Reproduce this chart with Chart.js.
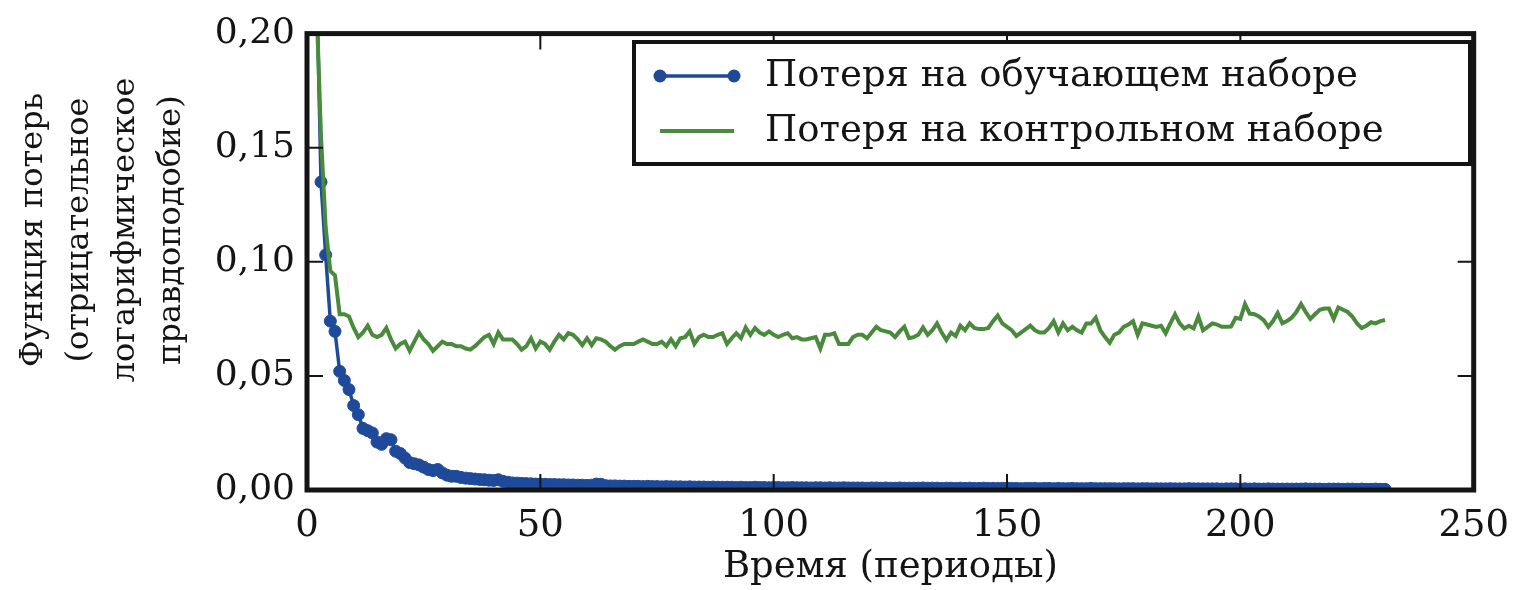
<!DOCTYPE html>
<html>
<head>
<meta charset="utf-8">
<script src="https://cdn.jsdelivr.net/npm/chart.js@4.4.1/dist/chart.umd.min.js"></script>
<style>
  html, body { margin: 0; padding: 0; background: #fff; }
</style>
</head>
<body>
<canvas id="lossChart" width="1523" height="590"></canvas>
<script>
// loss per epoch
const trainLoss = [
  0.450, 0.230, 0.135, 0.103, 0.074, 0.0695, 0.052, 0.048, 0.044, 0.037,
  0.033, 0.027, 0.026, 0.025, 0.021, 0.020, 0.0225, 0.022, 0.017, 0.016,
  0.014, 0.012, 0.0115, 0.011, 0.010, 0.009, 0.0085, 0.009, 0.0075, 0.0065,
  0.006, 0.006, 0.0055, 0.0052, 0.005, 0.0048, 0.0046, 0.0045, 0.0043, 0.0042,
  0.0045, 0.0038, 0.0034, 0.0031, 0.003, 0.0029, 0.0028, 0.0027, 0.0026, 0.0026,
  0.0025, 0.0024, 0.0024, 0.0023, 0.0023, 0.0022, 0.0022, 0.0021, 0.0021, 0.002,
  0.0021, 0.0026, 0.0025, 0.0019, 0.0018, 0.0018, 0.0017, 0.0017, 0.0016, 0.0016,
  0.0016, 0.0015, 0.0016, 0.0015, 0.0015, 0.0014, 0.0015, 0.0014, 0.0014, 0.0014,
  0.0013, 0.0014, 0.0013, 0.0013, 0.0013, 0.0012, 0.0013, 0.0012, 0.0012, 0.0012,
  0.0012, 0.0011, 0.0012, 0.0011, 0.0011, 0.0012, 0.0011, 0.0011, 0.0010, 0.0011,
  0.0011, 0.0010, 0.0010, 0.0011, 0.0010, 0.0010, 0.0010, 0.0009, 0.0010, 0.0010,
  0.0009, 0.0010, 0.0009, 0.0009, 0.0010, 0.0009, 0.0009, 0.0009, 0.0009, 0.0008,
  0.0009, 0.0009, 0.0008, 0.0009, 0.0008, 0.0008, 0.0009, 0.0008, 0.0008, 0.0008,
  0.0008, 0.0009, 0.0008, 0.0008, 0.0008, 0.0007, 0.0008, 0.0008, 0.0007, 0.0008,
  0.0007, 0.0008, 0.0007, 0.0007, 0.0008, 0.0007, 0.0007, 0.0007, 0.0007, 0.0008,
  0.0007, 0.0007, 0.0006, 0.0007, 0.0007, 0.0007, 0.0006, 0.0007, 0.0007, 0.0006,
  0.0007, 0.0006, 0.0006, 0.0007, 0.0006, 0.0006, 0.0006, 0.0007, 0.0006, 0.0006,
  0.0006, 0.0006, 0.0006, 0.0005, 0.0006, 0.0006, 0.0006, 0.0005, 0.0006, 0.0006,
  0.0005, 0.0006, 0.0005, 0.0005, 0.0006, 0.0005, 0.0005, 0.0005, 0.0006, 0.0005,
  0.0005, 0.0005, 0.0005, 0.0005, 0.0005, 0.0004, 0.0005, 0.0005, 0.0005, 0.0004,
  0.0005, 0.0004, 0.0005, 0.0004, 0.0004, 0.0005, 0.0004, 0.0004, 0.0004, 0.0004,
  0.0004, 0.0004, 0.0004, 0.0005, 0.0004, 0.0004, 0.0004, 0.0003, 0.0004, 0.0004,
  0.0004, 0.0003, 0.0004, 0.0004, 0.0003, 0.0004, 0.0003, 0.0003, 0.0004, 0.0003, 0.0003
];

const validLoss = [
  0.320, 0.215, 0.155, 0.115, 0.096, 0.094, 0.077, 0.077, 0.076, 0.071,
  0.067, 0.069, 0.072, 0.068, 0.067, 0.068, 0.071, 0.066, 0.062, 0.064,
  0.065, 0.061, 0.065, 0.069, 0.066, 0.064, 0.061, 0.063, 0.065, 0.064,
  0.064, 0.063, 0.063, 0.062, 0.0615, 0.063, 0.065, 0.067, 0.068, 0.064,
  0.069, 0.066, 0.066, 0.066, 0.064, 0.0615, 0.063, 0.0665, 0.062, 0.065,
  0.064, 0.0615, 0.065, 0.068, 0.066, 0.0687, 0.068, 0.066, 0.0635, 0.0665,
  0.0635, 0.0665, 0.066, 0.065, 0.063, 0.0615, 0.063, 0.064, 0.064, 0.064,
  0.065, 0.066, 0.065, 0.064, 0.064, 0.065, 0.063, 0.066, 0.063, 0.0665,
  0.067, 0.0695, 0.064, 0.067, 0.068, 0.067, 0.067, 0.068, 0.0687, 0.064,
  0.0665, 0.0687, 0.0665, 0.0712, 0.068, 0.071, 0.069, 0.068, 0.0695, 0.068,
  0.067, 0.068, 0.0687, 0.0665, 0.067, 0.066, 0.066, 0.0665, 0.067, 0.062,
  0.068, 0.068, 0.0687, 0.064, 0.064, 0.064, 0.067, 0.068, 0.068, 0.0665,
  0.069, 0.0715, 0.070, 0.0695, 0.069, 0.067, 0.0695, 0.0715, 0.0665, 0.067,
  0.068, 0.0712, 0.068, 0.070, 0.073, 0.069, 0.0657, 0.069, 0.0675, 0.072,
  0.070, 0.073, 0.071, 0.0705, 0.0705, 0.071, 0.074, 0.0765, 0.073, 0.0715,
  0.070, 0.0675, 0.069, 0.0705, 0.072, 0.070, 0.069, 0.069, 0.071, 0.074,
  0.069, 0.073, 0.070, 0.0715, 0.070, 0.069, 0.073, 0.073, 0.0755, 0.070,
  0.067, 0.0645, 0.068, 0.069, 0.0715, 0.0725, 0.074, 0.068, 0.073, 0.0725,
  0.072, 0.0715, 0.072, 0.0687, 0.073, 0.077, 0.073, 0.0708, 0.072, 0.0708,
  0.076, 0.070, 0.0715, 0.073, 0.0725, 0.0715, 0.0715, 0.0716, 0.0755, 0.075,
  0.0815, 0.0773, 0.077, 0.076, 0.0744, 0.0715, 0.074, 0.0775, 0.073, 0.074,
  0.0755, 0.078, 0.0815, 0.078, 0.075, 0.077, 0.079, 0.0795, 0.0795, 0.075,
  0.080, 0.079, 0.078, 0.076, 0.073, 0.071, 0.072, 0.0735, 0.073, 0.074, 0.0745
];

// epochs 1..N
const epochs = trainLoss.map((_, i) => i + 1);

const xTicks = [0, 50, 100, 150, 200, 250];
const yTicks = [0, 0.05, 0.10, 0.15, 0.20];
const yTickLabels = ['0,00', '0,05', '0,10', '0,15', '0,20'];

const seriesNames = ['Потеря на обучающем наборе', 'Потеря на контрольном наборе'];
const xTitle = 'Время (периоды)';
const yTitle = ['Функция потерь', '(отрицательное', 'логарифмическое', 'правдоподобие)'];

const BLUE = '#1f4a9a';
const GREEN = '#4a8a3c';
const INK = '#141414';
const SERIF = '"DejaVu Serif", "Liberation Serif", serif';

// frame, inward ticks, legend box and y title
const framePlugin = {
  id: 'framePlugin',
  afterDatasetsDraw(chart) {
    const { ctx, chartArea: a, scales: { x, y } } = chart;
    ctx.save();
    ctx.strokeStyle = INK;
    ctx.lineWidth = 2;
    const tl = 16;
    ctx.beginPath();
    xTicks.forEach(v => {
      const px = x.getPixelForValue(v);
      ctx.moveTo(px, a.bottom); ctx.lineTo(px, a.bottom - tl);
      ctx.moveTo(px, a.top); ctx.lineTo(px, a.top + tl);
    });
    yTicks.forEach(v => {
      const py = y.getPixelForValue(v);
      ctx.moveTo(a.left, py); ctx.lineTo(a.left + tl, py);
      ctx.moveTo(a.right, py); ctx.lineTo(a.right - tl, py);
    });
    ctx.stroke();
    ctx.lineWidth = 5;
    ctx.strokeRect(a.left, a.top, a.right - a.left, a.bottom - a.top);
    ctx.restore();
  },
  afterDraw(chart) {
    const { ctx } = chart;
    ctx.save();

    // legend
    const box = { x: 634, y: 42, w: 836, h: 122 };
    ctx.fillStyle = '#fff';
    ctx.fillRect(box.x, box.y, box.w, box.h);
    ctx.strokeStyle = INK;
    ctx.lineWidth = 4;
    ctx.strokeRect(box.x, box.y, box.w, box.h);
    chart.data.datasets.forEach((ds, i) => {
      const yy = box.y + 34 + i * 55;
      ctx.strokeStyle = ds.borderColor;
      ctx.lineWidth = ds.borderWidth;
      ctx.beginPath();
      ctx.moveTo(660, yy); ctx.lineTo(734, yy);
      ctx.stroke();
      if (ds.pointRadius > 0) {
        ctx.fillStyle = ds.borderColor;
        [660, 734].forEach(px => {
          ctx.beginPath();
          ctx.arc(px, yy, 6.5, 0, Math.PI * 2);
          ctx.fill();
        });
      }
      ctx.fillStyle = INK;
      ctx.font = '37px ' + SERIF;
      ctx.textBaseline = 'middle';
      ctx.textAlign = 'left';
      ctx.fillText(ds.label, 765, yy);
    });

    // y axis title, four rotated lines
    ctx.font = '32px ' + SERIF;
    ctx.fillStyle = INK;
    ctx.textAlign = 'center';
    ctx.textBaseline = 'middle';
    yTitle.forEach((line, i) => {
      ctx.save();
      ctx.translate(34 + i * 46, 230);
      ctx.rotate(-Math.PI / 2);
      ctx.fillText(line, 0, 0);
      ctx.restore();
    });
    ctx.restore();
  }
};

new Chart(document.getElementById('lossChart'), {
  type: 'line',
  data: {
    datasets: [
      {
        label: seriesNames[0],
        data: trainLoss.map((v, i) => ({ x: epochs[i], y: v })),
        borderColor: BLUE,
        backgroundColor: BLUE,
        borderWidth: 3.5,
        pointRadius: 6,
        pointBorderWidth: 1,
        pointBackgroundColor: BLUE,
        pointBorderColor: BLUE,
        order: 1
      },
      {
        label: seriesNames[1],
        data: validLoss.map((v, i) => ({ x: epochs[i], y: v })),
        borderColor: GREEN,
        backgroundColor: GREEN,
        borderWidth: 4,
        pointRadius: 0,
        order: 0
      }
    ]
  },
  options: {
    responsive: false,
    animation: false,
    devicePixelRatio: 1,
    layout: { padding: { top: 24, right: 39, left: 0, bottom: 0 } },
    plugins: {
      legend: { display: false },
      tooltip: { enabled: false }
    },
    scales: {
      x: {
        type: 'linear',
        min: 0,
        max: 250,
        afterBuildTicks: s => { s.ticks = xTicks.map(v => ({ value: v })); },
        afterFit: s => { s.height = 100; },
        grid: { display: false, drawTicks: false },
        border: { display: false },
        ticks: {
          padding: 14,
          color: INK,
          font: { family: SERIF, size: 37 }
        },
        title: {
          display: true,
          text: xTitle,
          color: INK,
          font: { family: SERIF, size: 37 },
          padding: { top: 0, bottom: 0 }
        }
      },
      y: {
        min: 0,
        max: 0.2,
        afterBuildTicks: s => { s.ticks = yTicks.map(v => ({ value: v })); },
        afterFit: s => { s.width = 307; },
        grid: { display: false, drawTicks: false },
        border: { display: false },
        ticks: {
          padding: 12,
          color: INK,
          font: { family: SERIF, size: 36 },
          callback: (v, i) => yTickLabels[i]
        }
      }
    }
  },
  plugins: [framePlugin]
});
</script>
</body>
</html>
